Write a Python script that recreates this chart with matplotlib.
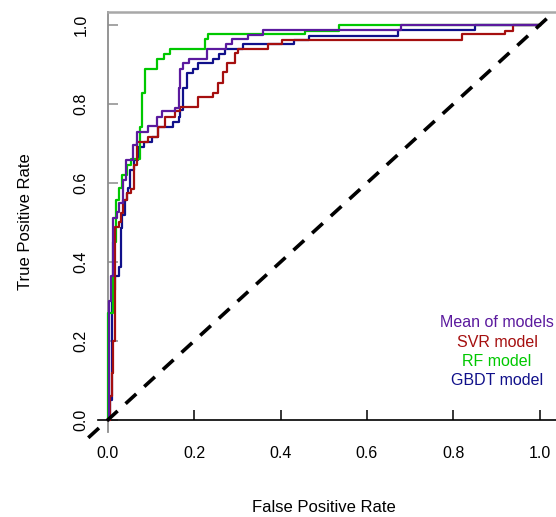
import matplotlib
matplotlib.use("Agg")
import matplotlib.pyplot as plt

plt.rcParams['font.family'] = ['Liberation Sans', 'DejaVu Sans']

# ROC curves: x where the step up happens, tpr after the step
mean_fpr = [0, 0.004, 0.007, 0.013, 0.021, 0.027, 0.035, 0.042, 0.059, 0.067, 0.094, 0.113, 0.125,
            0.156, 0.164, 0.167, 0.175, 0.187, 0.229, 0.274, 0.287, 0.325, 0.359, 0.678, 1.0]
mean_tpr = [0, 0.30, 0.365, 0.511, 0.527, 0.549, 0.608, 0.658, 0.695, 0.730, 0.744, 0.768, 0.781,
            0.789, 0.840, 0.888, 0.903, 0.913, 0.938, 0.952, 0.964, 0.975, 0.987, 1.0, 1.0]

svr_fpr = [0, 0.005, 0.009, 0.013, 0.018, 0.025, 0.030, 0.036, 0.044, 0.053, 0.061, 0.067, 0.094,
           0.117, 0.133, 0.156, 0.167, 0.210, 0.244, 0.256, 0.266, 0.275, 0.295, 0.301, 0.372,
           0.403, 0.819, 0.920, 0.938, 1.0]
svr_tpr = [0, 0.06, 0.12, 0.20, 0.489, 0.502, 0.525, 0.557, 0.574, 0.584, 0.646, 0.705, 0.717,
           0.741, 0.766, 0.781, 0.793, 0.817, 0.829, 0.852, 0.882, 0.903, 0.928, 0.938, 0.951,
           0.962, 0.977, 0.986, 1.0, 1.0]

rf_fpr = [0, 0, 0.012, 0.020, 0.025, 0.034, 0.045, 0.055, 0.075, 0.080, 0.086, 0.113, 0.130,
          0.144, 0.225, 0.233, 0.456, 0.536, 1.0]
rf_tpr = [0, 0.27, 0.45, 0.557, 0.587, 0.62, 0.646, 0.66, 0.742, 0.829, 0.888, 0.913, 0.926,
          0.938, 0.964, 0.976, 0.985, 1.0, 1.0]

gbdt_fpr = [0, 0.005, 0.011, 0.016, 0.025, 0.030, 0.034, 0.040, 0.045, 0.048, 0.052, 0.060, 0.071,
            0.083, 0.102, 0.117, 0.152, 0.164, 0.167, 0.174, 0.175, 0.183, 0.198, 0.210, 0.244,
            0.258, 0.272, 0.314, 0.430, 0.466, 0.672, 0.850, 1.0]
gbdt_tpr = [0, 0.05, 0.329, 0.365, 0.388, 0.485, 0.519, 0.557, 0.575, 0.587, 0.633, 0.658, 0.692,
            0.705, 0.717, 0.743, 0.755, 0.768, 0.785, 0.793, 0.840, 0.878, 0.888, 0.903, 0.913,
            0.926, 0.938, 0.951, 0.962, 0.972, 0.987, 1.0, 1.0]

labels = ['Mean of models', 'SVR model', 'RF model', 'GBDT model']
colors = ['#5B1A9E', '#A50F0F', '#00C800', '#10108A']
ticks = [0.0, 0.2, 0.4, 0.6, 0.8, 1.0]

fig = plt.figure(figsize=(5.56, 5.17), dpi=100)
ax = fig.add_axes([0.1743, 0.1494, 0.8257, 0.8275])
ax.set_xlim(-0.025, 1.0375)
ax.set_ylim(-0.05, 1.033)

# draw order: blue, green, red, purple
ax.step(gbdt_fpr, gbdt_tpr, where='post', color=colors[3], lw=1.6, zorder=2)
ax.step(rf_fpr, rf_tpr, where='post', color=colors[2], lw=1.6, zorder=3)
ax.step(svr_fpr, svr_tpr, where='post', color=colors[1], lw=1.6, zorder=4)
ax.step(mean_fpr, mean_tpr, where='post', color=colors[0], lw=1.6, zorder=5)

ax.plot([-0.045, 1.025], [-0.045, 1.025], color='black', lw=2.6, ls=(0, (4, 3)),
        clip_on=False, zorder=6)

# axes look
ax.spines['right'].set_visible(False)
ax.spines['left'].set_position(('data', 0))
ax.spines['left'].set_bounds(-0.03, 1.033)
ax.spines['left'].set_color('#8c8c8c')
ax.spines['left'].set_linewidth(1.3)
ax.spines['bottom'].set_position(('data', 0))
ax.spines['bottom'].set_bounds(-0.023, 1.0375)
ax.spines['bottom'].set_linewidth(1.2)
ax.spines['top'].set_bounds(0, 1.0375)
ax.spines['top'].set_color('#a8a8a8')
ax.spines['top'].set_linewidth(1.8)

ax.set_xticks(ticks)
ax.set_yticks(ticks)
ax.set_xticklabels([f'{t:.1f}' for t in ticks])
ax.set_yticklabels([f'{t:.1f}' for t in ticks], rotation=90, va='center')
ax.tick_params(axis='x', direction='in', length=7, width=1.1, pad=19, labelsize=11.5, colors='black')
ax.tick_params(axis='y', direction='in', length=7, width=1.1, pad=14, labelsize=11.5,
               color='#8c8c8c', labelcolor='black')

fig.text(323.5 / 556, 1 - 508 / 517, 'False Positive Rate', ha='center', va='center', fontsize=12)
fig.text(26 / 556, 1 - 222 / 517, 'True Positive Rate', ha='center', va='center', rotation=90,
         fontsize=12)

# legend text, centered
for lab, col, ypos in zip(labels, colors, [0.248, 0.196, 0.147, 0.099]):
    ax.text(0.901, ypos, lab, color=col, ha='center', va='center', fontsize=11.5)

fig.savefig('out.png', dpi=100)
